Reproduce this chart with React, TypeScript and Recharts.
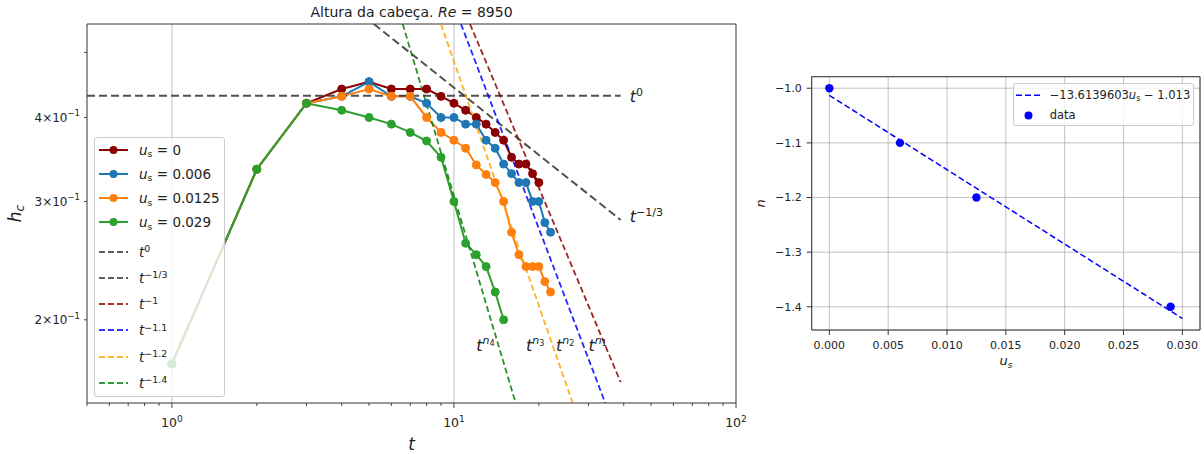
import React from 'react';
import {
  LineChart, ComposedChart, Line, Scatter, XAxis, YAxis, CartesianGrid,
  ReferenceLine, ReferenceDot, Legend,
} from 'recharts';

const FONT = "'DejaVu Sans', sans-serif";
const INK = '#222222';
const SPINE = '#333333';

// ---- left panel: h_c(t), one curve per settling velocity u_s ----
const tUs0 = [1, 2, 3, 4, 5, 6, 7, 8, 9, 10, 11, 12, 13, 14, 15, 16, 17, 18, 19, 20];
const hUs0 = [0.172, 0.335, 0.42, 0.441, 0.452, 0.441, 0.441, 0.441, 0.43, 0.42, 0.41, 0.4, 0.391, 0.38, 0.37, 0.349, 0.341, 0.341, 0.33, 0.32];

const tUs006 = [1, 2, 3, 4, 5, 6, 7, 8, 9, 10, 11, 12, 13, 14, 15, 16, 17, 18, 19, 20, 21, 22];
const hUs006 = [0.172, 0.335, 0.42, 0.43, 0.452, 0.43, 0.43, 0.42, 0.4, 0.4, 0.391, 0.391, 0.37, 0.36, 0.341, 0.33, 0.32, 0.32, 0.3, 0.3, 0.279, 0.27];

const tUs0125 = [1, 2, 3, 4, 5, 6, 7, 8, 9, 10, 11, 12, 13, 14, 15, 16, 17, 18, 19, 20, 21, 22];
const hUs0125 = [0.172, 0.335, 0.42, 0.43, 0.441, 0.43, 0.43, 0.4, 0.38, 0.37, 0.36, 0.34, 0.329, 0.32, 0.3, 0.27, 0.25, 0.24, 0.24, 0.24, 0.228, 0.22];

const tUs029 = [1, 2, 3, 4, 5, 6, 7, 8, 9, 10, 11, 12, 13, 14, 15];
const hUs029 = [0.172, 0.335, 0.42, 0.41, 0.4, 0.391, 0.38, 0.369, 0.349, 0.3, 0.26, 0.25, 0.24, 0.22, 0.2];

const usLabels = ['0', '0.006', '0.0125', '0.029'];
const usColors = ['#8b0000', '#1f77b4', '#ff7f0e', '#2ca02c'];

// power-law guide lines, end points
const refExp = ['0', '\u22121/3', '\u22121', '\u22121.1', '\u22121.2', '\u22121.4'];
const refT = [[0.5, 39], [5.2, 39], [11.4, 39], [10.59, 34.4], [8.99, 26.36], [6.58, 16.55]];
const refH = [[0.431, 0.431], [0.551, 0.2816], [0.551, 0.1615], [0.551, 0.1504], [0.551, 0.1504], [0.551, 0.1504]];
const refColors = ['#333333', '#333333', '#8b0000', '#0000ff', '#ffa500', '#008000'];

const xTicksLeft = [0.5, 0.6, 0.7, 0.8, 0.9, 1, 2, 3, 4, 5, 6, 7, 8, 9, 10, 20, 30, 40, 50, 60, 70, 80, 90, 100];
const yTicksLeft = [0.2, 0.3, 0.4, 0.5];
const yLabelled = [0.2, 0.3, 0.4];

// ---- right panel: exponent n vs u_s ----
const usVals = [0, 0.006, 0.0125, 0.029];
const nVals = [-1.0, -1.1, -1.2, -1.4];
const fitUs = [0, 0.03];
const fitN = [-1.013, -1.4214];
const usTicks = [0, 0.005, 0.01, 0.015, 0.02, 0.025, 0.03];
const nTicks = [-1.4, -1.3, -1.2, -1.1, -1.0];

const seriesData = [tUs0, tUs006, tUs0125, tUs029].map((ts, k) => {
  const hs = [hUs0, hUs006, hUs0125, hUs029][k];
  return ts.map((t, i) => ({ t, h: hs[i] }));
});
const refData = refT.map((ts, k) => ts.map((t, i) => ({ t, h: refH[k][i] })));
const pointData = usVals.map((us, i) => ({ us, n: nVals[i] }));
const fitData = fitUs.map((us, i) => ({ us, n: fitN[i] }));

const LogXTick = (props: any) => {
  const { x, y, payload } = props;
  const v = payload.value;
  const major = v === 1 || v === 10 || v === 100;
  return (
    <g>
      <line x1={x} x2={x} y1={y} y2={y + (major ? 5 : 3)} stroke={SPINE} strokeWidth={0.9} />
      {major && (
        <text x={x} y={y + 24} textAnchor="middle" fontSize={12.5} fill={INK} fontFamily={FONT}>
          10<tspan dy={-5.5} fontSize={9}>{Math.round(Math.log10(v))}</tspan>
        </text>
      )}
    </g>
  );
};

const LogYTick = (props: any) => {
  const { x, y, payload } = props;
  const v = payload.value;
  const lab = yLabelled.some((l) => Math.abs(l - v) < 1e-9);
  return (
    <g>
      <line x1={x - 3} x2={x} y1={y} y2={y} stroke={SPINE} strokeWidth={0.9} />
      {lab && (
        <text x={x - 7} y={y + 4.5} textAnchor="end" fontSize={12} fill={INK} fontFamily={FONT}>
          {Math.round(v * 10)}×10<tspan dy={-5.5} fontSize={8.5}>{'\u22121'}</tspan>
        </text>
      )}
    </g>
  );
};

const sup = (s: string) => (
  <span style={{ fontSize: '0.7em', position: 'relative', top: '-0.5em', fontStyle: 'normal' }}>{s}</span>
);
const sub = (s: string) => (
  <span style={{ fontSize: '0.7em', position: 'relative', top: '0.25em', fontStyle: 'normal' }}>{s}</span>
);

function LeftLegend() {
  const rowH = 24;
  return (
    <div style={{
      position: 'relative', width: 131, height: 260, boxSizing: 'border-box',
      background: 'rgba(255,255,255,0.8)', border: '1px solid #cccccc', borderRadius: 3,
      fontFamily: FONT, fontSize: 13.5, color: INK,
    }}>
      {usLabels.map((lab, i) => {
        const c = 13 + i * 24.1 - 1;
        return (
          <div key={lab} style={{ position: 'absolute', left: 0, top: c - rowH / 2, height: rowH, width: 129 }}>
            <svg width={30} height={rowH} style={{ position: 'absolute', left: 4, top: 0 }}>
              <line x1={0} x2={29} y1={rowH / 2} y2={rowH / 2} stroke={usColors[i]} strokeWidth={2} />
              <circle cx={14.5} cy={rowH / 2} r={4} fill={usColors[i]} />
            </svg>
            <div style={{ position: 'absolute', left: 44, top: 0, height: rowH, lineHeight: `${rowH}px`, whiteSpace: 'nowrap' }}>
              <i>u</i>{sub('s')} = {lab}
            </div>
          </div>
        );
      })}
      {refExp.map((e, j) => {
        const c = 114.7 + j * 26.2 - 1;
        return (
          <div key={e} style={{ position: 'absolute', left: 0, top: c - rowH / 2, height: rowH, width: 129 }}>
            <svg width={30} height={rowH} style={{ position: 'absolute', left: 4, top: 0 }}>
              <line x1={0} x2={29} y1={rowH / 2} y2={rowH / 2} stroke={refColors[j]} strokeWidth={2}
                strokeDasharray="6 3" strokeOpacity={0.8} />
            </svg>
            <div style={{ position: 'absolute', left: 44, top: 0, height: rowH, lineHeight: `${rowH}px`, whiteSpace: 'nowrap' }}>
              <i>t</i>{sup(e)}
            </div>
          </div>
        );
      })}
    </div>
  );
}

function RightLegend() {
  return (
    <div style={{
      position: 'relative', width: 181, height: 43, boxSizing: 'border-box',
      background: 'rgba(255,255,255,0.8)', border: '1px solid #cccccc', borderRadius: 3,
      fontFamily: FONT, fontSize: 11.5, color: INK,
    }}>
      <svg width={26} height={40} style={{ position: 'absolute', left: 2, top: 0 }}>
        <line x1={0} x2={24} y1={11.3} y2={11.3} stroke="#0000ff" strokeWidth={1.5} strokeDasharray="6 3" />
        <circle cx={12.5} cy={31.6} r={4} fill="#0000ff" />
      </svg>
      <div style={{ position: 'absolute', left: 36, top: 2, lineHeight: '18px', whiteSpace: 'nowrap' }}>
        {'\u221213.6139603'}<i>u</i>{sub('s')} {'\u2212'} 1.013
      </div>
      <div style={{ position: 'absolute', left: 36, top: 22.5, lineHeight: '18px' }}>data</div>
    </div>
  );
}

const textLabel = (content: React.ReactNode) => (p: any) => (
  <text x={p.cx} y={p.cy} fontSize={16} fontStyle="italic" fill={INK} fontFamily={FONT}>{content}</text>
);

const nLabel = (k: number) => (
  <>t<tspan dy={-7} fontSize={11}>n</tspan><tspan dy={2.5} fontSize={8} fontStyle="normal">{k}</tspan></>
);

export default function App() {
  return (
    <div style={{ position: 'absolute', left: 0, top: 0, width: 1204, height: 454, background: '#fff' }}>
      <div style={{ position: 'absolute', left: 0, top: 0 }}>
        <LineChart width={760} height={454} margin={{ top: 24, right: 24, bottom: 21, left: 27 }}>
          <XAxis dataKey="t" type="number" scale="log" domain={[0.5, 100]} allowDataOverflow
            ticks={xTicksLeft} interval={0} tickSize={0} tickMargin={0} tickLine={false}
            axisLine={{ stroke: SPINE }} tick={<LogXTick />} height={30} />
          <YAxis type="number" scale="log" domain={[0.1504, 0.551]} allowDataOverflow
            ticks={yTicksLeft} interval={0} tickSize={0} tickMargin={0} tickLine={false}
            axisLine={{ stroke: SPINE }} tick={<LogYTick />} width={60} />
          <ReferenceLine x={1} stroke="#b0b0b0" strokeWidth={0.8} ifOverflow="visible" />
          <ReferenceLine x={10} stroke="#b0b0b0" strokeWidth={0.8} ifOverflow="visible" />
          <ReferenceLine x={100} stroke={SPINE} ifOverflow="visible" />
          <ReferenceLine y={0.551} stroke={SPINE} ifOverflow="visible" />
          {seriesData.map((d, k) => (
            <Line key={usLabels[k]} data={d} dataKey="h" stroke={usColors[k]} strokeWidth={2}
              dot={{ r: 4, fill: usColors[k], stroke: usColors[k], strokeWidth: 1 }}
              activeDot={false} isAnimationActive={false} />
          ))}
          {refData.map((d, k) => (
            <Line key={refExp[k]} data={d} dataKey="h" stroke={refColors[k]} strokeOpacity={0.85}
              strokeWidth={k < 2 ? 2 : 1.8} strokeDasharray={k < 2 ? '8 4' : '6 3.2'}
              dot={false} activeDot={false} isAnimationActive={false} />
          ))}
          <ReferenceDot x={42} y={0.4225} r={0} ifOverflow="visible"
            shape={textLabel(<>t<tspan dy={-6} fontSize={11} fontStyle="normal">0</tspan></>)} />
          <ReferenceDot x={42} y={0.28} r={0} ifOverflow="visible"
            shape={textLabel(<>t<tspan dy={-6} fontSize={11} fontStyle="normal">{'\u22121/3'}</tspan></>)} />
          <ReferenceDot x={12} y={0.18} r={0} ifOverflow="visible" shape={textLabel(nLabel(4))} />
          <ReferenceDot x={18} y={0.18} r={0} ifOverflow="visible" shape={textLabel(nLabel(3))} />
          <ReferenceDot x={23} y={0.18} r={0} ifOverflow="visible" shape={textLabel(nLabel(2))} />
          <ReferenceDot x={30} y={0.18} r={0} ifOverflow="visible" shape={textLabel(nLabel(1))} />
          <Legend content={() => <LeftLegend />} layout="vertical" align="center" verticalAlign="middle"
            width={131} height={260}
            wrapperStyle={{ left: 94, top: 137, width: 131, height: 260, margin: 0, padding: 0 }} />
        </LineChart>
      </div>

      <div style={{ position: 'absolute', left: 740, top: 0 }}>
        <ComposedChart width={464} height={454} margin={{ top: 76.7, right: 4, bottom: 94, left: 21.7 }}>
          <CartesianGrid stroke="#b0b0b0" strokeWidth={0.8} />
          <XAxis dataKey="us" type="number" domain={[-0.0015, 0.0315]} allowDataOverflow
            ticks={usTicks} interval={0} tickFormatter={(v: number) => v.toFixed(3)}
            tick={{ fontSize: 11, fill: INK, fontFamily: FONT }} tickSize={5} tickMargin={6}
            stroke={SPINE} height={30} />
          <YAxis dataKey="n" type="number" domain={[-1.4425, -0.9789]} allowDataOverflow
            ticks={nTicks} interval={0}
            tickFormatter={(v: number) => (v < 0 ? '\u2212' : '') + Math.abs(v).toFixed(1)}
            tick={{ fontSize: 11, fill: INK, fontFamily: FONT }} tickSize={5} tickMargin={5}
            stroke={SPINE} width={50} />
          <ReferenceLine x={0.0315} stroke={SPINE} ifOverflow="visible" />
          <ReferenceLine y={-0.9789} stroke={SPINE} ifOverflow="visible" />
          <Line data={fitData} dataKey="n" stroke="#0000ff" strokeWidth={1.5} strokeDasharray="6 3"
            dot={false} activeDot={false} isAnimationActive={false} />
          <Scatter data={pointData} dataKey="n" fill="#0000ff" isAnimationActive={false}
            shape={(p: any) => <circle cx={p.cx} cy={p.cy} r={4.2} fill="#0000ff" />} />
          <Legend content={() => <RightLegend />} layout="vertical" align="center" verticalAlign="middle"
            width={181} height={43}
            wrapperStyle={{ left: 272.7, top: 82.7, width: 181, height: 43, margin: 0, padding: 0 }} />
        </ComposedChart>
      </div>

      <svg width={1204} height={454} style={{ position: 'absolute', left: 0, top: 0, pointerEvents: 'none' }}
        fontFamily={FONT}>
        <text x={411.5} y={16.5} textAnchor="middle" fontSize={14} fill={INK}>
          Altura da cabeça. <tspan fontStyle="italic">Re</tspan> = 8950
        </text>
        <text x={411.5} y={450} textAnchor="middle" fontSize={17} fontStyle="italic" fill={INK}>t</text>
        <text transform="translate(21,213.5) rotate(-90)" textAnchor="middle" fontSize={17} fontStyle="italic" fill={INK}>
          h<tspan dy={3} fontSize={12}>c</tspan>
        </text>
        <text x={1006} y={365} textAnchor="middle" fontSize={13} fontStyle="italic" fill={INK}>
          u<tspan dy={2.5} fontSize={9}>s</tspan>
        </text>
        <text transform="translate(765,203.3) rotate(-90)" textAnchor="middle" fontSize={13} fontStyle="italic" fill={INK}>n</text>
      </svg>
    </div>
  );
}
